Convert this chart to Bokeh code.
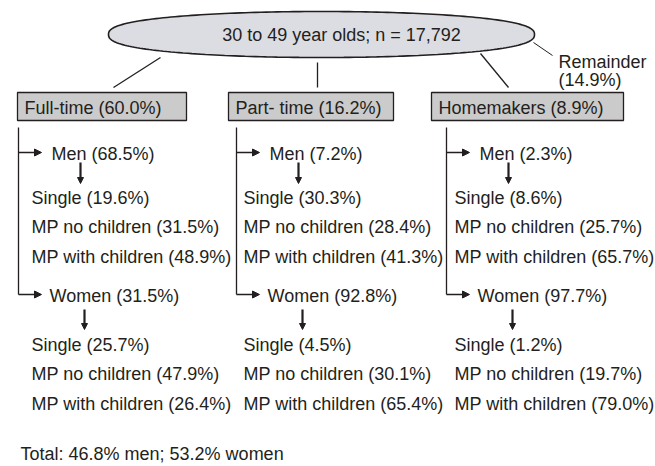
import numpy as np
from bokeh.plotting import figure
from bokeh.models import Range1d, Arrow, NormalHead
from bokeh.core.properties import value
from bokeh.embed import file_html
from bokeh.resources import INLINE

# ---------------- data ----------------
title_label = "30 to 49 year olds; n = 17,792"
remainder_name = "Remainder"
remainder_pct = 14.9
categories = ["Full-time", "Part- time", "Homemakers"]
category_pct = [60.0, 16.2, 8.9]
men_pct = [68.5, 7.2, 2.3]
women_pct = [31.5, 92.8, 97.7]
subgroups = ["Single", "MP no children", "MP with children"]
men_sub = [[19.6, 31.5, 48.9], [30.3, 28.4, 41.3], [8.6, 25.7, 65.7]]
women_sub = [[25.7, 47.9, 26.4], [4.5, 30.1, 65.4], [1.2, 19.7, 79.0]]
total_men = 46.8
total_women = 53.2

# ---------------- layout (page pixels) ----------------
FONT = value("Liberation Sans")
FS = "18px"
INK = "#231f20"

ell_cx, ell_cy, ell_a, ell_b = 321, 34, 213, 23
box_left = [17, 228, 431]
box_right = [186, 393, 623]
box_top, box_bot = 92, 120
bracket_x = [18, 236, 446]
sub_x = [31, 243, 454]
y_men, y_women = 152, 294
y_men_sub = [197, 226, 256]
y_women_sub = [344, 373, 403]
conn_lines = [((160, 57), (113, 87)), ((317, 62), (317, 87)), ((480, 53), (508, 87))]

p = figure(width=655, height=466, x_range=Range1d(0, 655), y_range=Range1d(466, 0),
           output_backend="svg", toolbar_location=None, min_border=0)
p.axis.visible = False
p.grid.visible = False
p.outline_line_color = None
p.background_fill_color = "white"
p.border_fill_color = "white"


def txt(x, y, s, align="left"):
    p.text(x=[x], y=[y], text=[s], text_font=FONT, text_font_size=FS,
           text_color=INK, text_align=align, text_baseline="middle")


def arrow(x0, y0, x1, y1, w=1.3, size=7):
    p.add_layout(Arrow(x_start=x0, y_start=y0, x_end=x1, y_end=y1,
                       line_color=INK, line_width=w,
                       end=NormalHead(size=size, fill_color=INK, line_color=INK, line_width=1)))


# ellipse (slightly lens-shaped)
t = np.linspace(0, 2 * np.pi, 241)
ex = ell_cx + ell_a * np.cos(t)
ey = ell_cy + ell_b * np.sign(np.sin(t)) * np.abs(np.sin(t)) ** 0.8
p.patch(ex, ey, fill_color="#dcdde2", line_color=INK, line_width=1.6)
txt(341, ell_cy, title_label, "center")

# connectors from ellipse
for (a, b) in conn_lines:
    p.line([a[0], b[0]], [a[1], b[1]], line_color=INK, line_width=1.3)
p.line([533, 552], [42, 55], line_color=INK, line_width=1)
txt(558, 61, remainder_name)
txt(558, 79, f"({remainder_pct:.1f}%)")

for i, cat in enumerate(categories):
    # box
    p.quad(left=[box_left[i]], right=[box_right[i]], top=[box_top], bottom=[box_bot],
           fill_color="#cbcbcb", line_color=INK, line_width=1.3)
    txt(box_left[i] + 7, (box_top + box_bot) / 2 + 1, f"{cat} ({category_pct[i]:.1f}%)")

    bx = bracket_x[i]
    # bracket
    p.line([bx, bx], [box_bot + 7, y_women], line_color=INK, line_width=1.3)
    arrow(bx, y_men, bx + 23, y_men)
    arrow(bx, y_women, bx + 23, y_women)
    txt(bx + 33, y_men + 1, f"Men ({men_pct[i]:.1f}%)")
    txt(bx + 31, y_women + 1, f"Women ({women_pct[i]:.1f}%)")

    # down arrows
    arrow(bx + 62, y_men + 10, bx + 62, y_men + 31, w=2.2, size=6)
    arrow(bx + 66, y_women + 15, bx + 66, y_women + 35, w=2.2, size=6)

    for j, sg in enumerate(subgroups):
        txt(sub_x[i], y_men_sub[j], f"{sg} ({men_sub[i][j]:.1f}%)")
        txt(sub_x[i], y_women_sub[j], f"{sg} ({women_sub[i][j]:.1f}%)")

txt(20, 453, f"Total: {total_men:.1f}% men; {total_women:.1f}% women")

open("out.html", "w").write(file_html(p, INLINE))
